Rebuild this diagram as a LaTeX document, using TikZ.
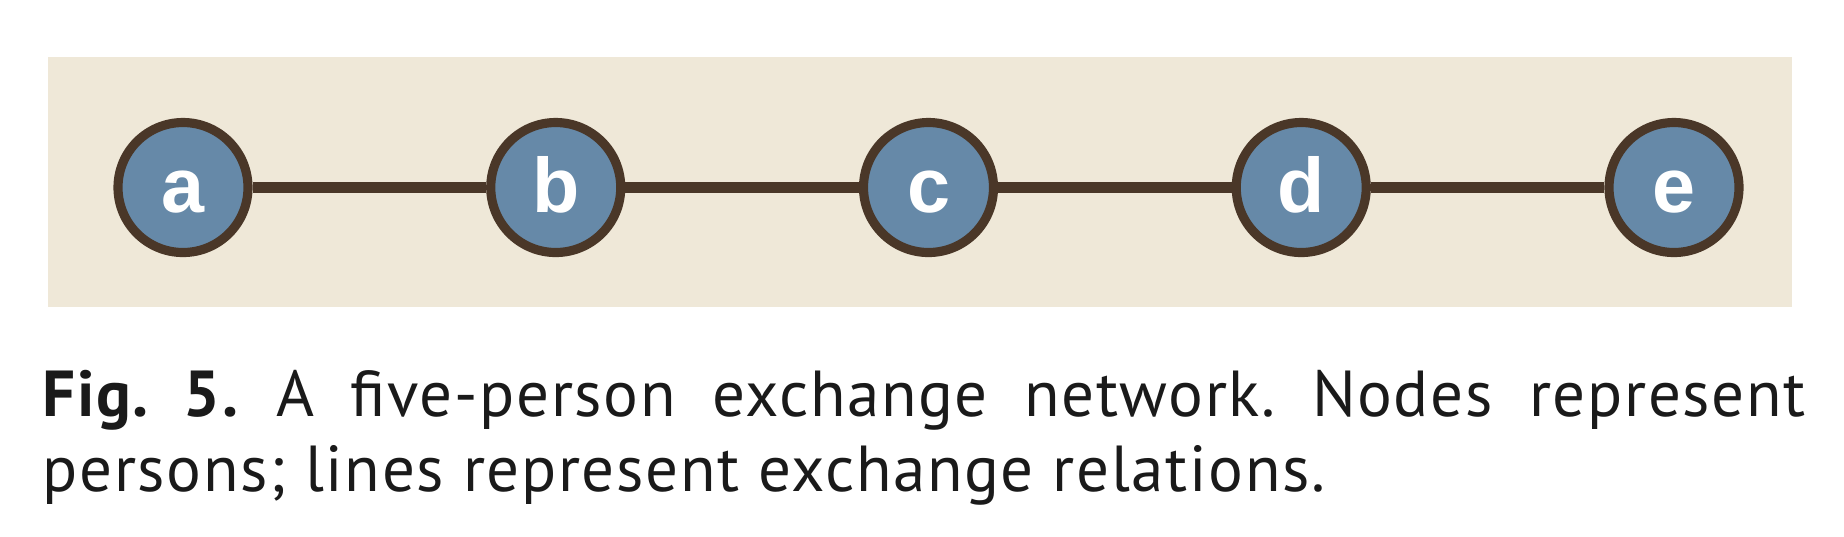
\documentclass[tikz,border=0pt]{standalone}
\usepackage{fontspec}
\setmainfont[LetterSpace=2.5]{PT Sans}
\newfontfamily\labelfont{Liberation Sans}
\usetikzlibrary{positioning}
\definecolor{panelbeige}{RGB}{239,232,216}
\definecolor{personblue}{RGB}{102,137,168}
\definecolor{darkbrown}{RGB}{74,55,40}
\definecolor{captionblack}{RGB}{26,26,26}

\begin{document}
\begin{tikzpicture}[
  person/.style={circle, fill=personblue, draw=darkbrown, line width=2.6pt, minimum size=1.30cm,
    inner sep=0pt, text height=0.5cm, text depth=0cm, text=white,
    font=\labelfont\bfseries\fontsize{22}{22}\selectfont},
  tie/.style={draw=darkbrown, line width=3pt},
  node distance=3.7275cm, on grid]
  \useasboundingbox (0,0) rectangle (18.44,-5.36);
  \fill[panelbeige] (0.48,-0.57) rectangle (17.92,-3.07);
  \node[person] (a) at (1.83,-1.875) {a};
  \node[person, right=of a] (b) {b};
  \node[person, right=of b] (c) {c};
  \node[person, right=of c] (d) {d};
  \node[person, right=of d] (e) {e};
  \foreach \u/\v in {a/b, b/c, c/d, d/e}
    \draw[tie] (\u) -- (\v);
  \node[anchor=base west, inner sep=0pt, text width=17.63cm, align=justify, text=captionblack,
    font=\fontsize{18.5}{21.6}\selectfont\frenchspacing] (caption) at (0.42,-4.16)
    {\textbf{Fig. 5.} A five-person exchange network. Nodes represent\linebreak
     persons; lines represent exchange relations.};
\end{tikzpicture}
\end{document}
